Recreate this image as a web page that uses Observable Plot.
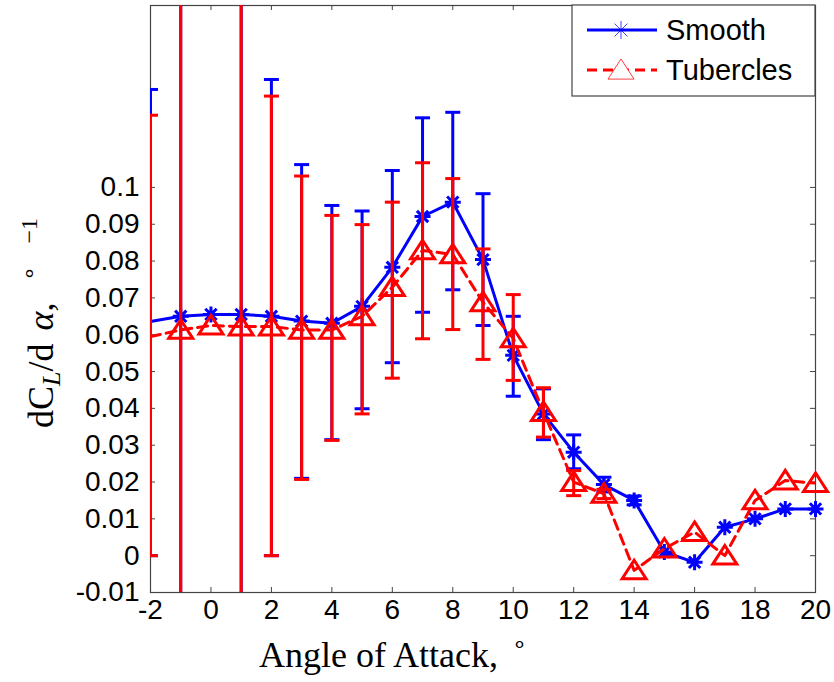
<!DOCTYPE html>
<html>
<head>
<meta charset="utf-8">
<script src="https://cdn.jsdelivr.net/npm/d3@7"></script>
<script src="https://cdn.jsdelivr.net/npm/@observablehq/plot@0.6"></script>
<style>
  html, body { margin: 0; padding: 0; background: #fff; }
  #chart { width: 834px; height: 682px; }
</style>
</head>
<body>
<div id="chart"></div>
<script>
// ---- data ----
const angles = [-2, -1, 0, 1, 2, 3, 4, 5, 6, 7, 8, 9, 10, 11, 12, 13, 14, 15, 16, 17, 18, 19, 20];

const smooth     = [0.0636, 0.0650, 0.0655, 0.0655, 0.0650, 0.0637, 0.0631, 0.0677, 0.0783, 0.0921, 0.0960, 0.0804, 0.0544, 0.0385, 0.0281, 0.0193, 0.0150, 0.0010, -0.0018, 0.0077, 0.0100, 0.0127, 0.0127];
const smoothLow  = [0.0000, -0.25, null, -0.25, 0.0000, 0.0210, 0.0315, 0.0399, 0.0524, 0.0661, 0.0722, 0.0625, 0.0433, 0.0315, 0.0236, 0.0173, 0.0138, null, null, null, null, null, null];
const smoothHigh = [0.1266, 0.38, null, 0.38, 0.1293, 0.1062, 0.0951, 0.0936, 0.1046, 0.1189, 0.1204, 0.0983, 0.0650, 0.0453, 0.0328, 0.0213, 0.0162, null, null, null, null, null, null];

const tubercles  = [0.0595, 0.0613, 0.0625, 0.0622, 0.0622, 0.0613, 0.0613, 0.0650, 0.0729, 0.0829, 0.0818, 0.0688, 0.0590, 0.0390, 0.0200, 0.0168, -0.0040, 0.0019, 0.0064, 0.0000, 0.0150, 0.0204, 0.0197];
const tubLow     = [0.0000, -0.30, null, -0.30, 0.0000, 0.0207, 0.0313, 0.0385, 0.0482, 0.0589, 0.0614, 0.0533, 0.0476, 0.0322, 0.0163, 0.0155, null, null, null, null, null, null, null];
const tubHigh    = [0.1196, 0.40, null, 0.40, 0.1248, 0.1031, 0.0924, 0.0899, 0.0960, 0.1067, 0.1024, 0.0833, 0.0709, 0.0456, 0.0231, 0.0180, null, null, null, null, null, null, null];

const seriesNames = ["Smooth", "Tubercles"];
const xTicks = [-2, 0, 2, 4, 6, 8, 10, 12, 14, 16, 18, 20];
const yTicks = [-0.01, 0, 0.01, 0.02, 0.03, 0.04, 0.05, 0.06, 0.07, 0.08, 0.09, 0.1];
const xDomain = [-2, 20];
const yDomain = [-0.01, 0.1494];

// ---- tables ----
const rowsS = angles.map((a, i) => ({angle: a, v: smooth[i], lo: smoothLow[i], hi: smoothHigh[i]}));
const rowsT = angles.map((a, i) => ({angle: a, v: tubercles[i], lo: tubLow[i], hi: tubHigh[i]}));
const errS = rowsS.filter(d => d.lo != null);
const errT = rowsT.filter(d => d.lo != null);
const markS = rowsS.filter(d => d.angle > xDomain[0]);
const markT = rowsT.filter(d => d.angle > xDomain[0]);

// ---- symbols ----
const star8 = {draw(ctx, size) {
  const r = Math.sqrt(size / Math.PI), d = r * Math.SQRT1_2;
  ctx.moveTo(-r, 0); ctx.lineTo(r, 0);
  ctx.moveTo(0, -r); ctx.lineTo(0, r);
  ctx.moveTo(-d, -d); ctx.lineTo(d, d);
  ctx.moveTo(-d, d); ctx.lineTo(d, -d);
}};
const tri = {draw(ctx, size) {
  const r = Math.sqrt(size / Math.PI);
  ctx.moveTo(0, -0.85 * r); ctx.lineTo(r, 0.7 * r); ctx.lineTo(-r, 0.7 * r); ctx.closePath();
}};
const cap = {draw(ctx, size) {
  const r = Math.sqrt(size / Math.PI);
  ctx.moveTo(-r, 0); ctx.lineTo(r, 0);
}};

const BLUE = "#0000ff", RED = "#ff0000";
const W = 834, H = 682, mL = 150, mR = 19, mT = 5, mB = 90;
const iw = W - mL - mR, ih = H - mT - mB;
const TICK = 5;

const fmt = d => String(d);

const chart = Plot.plot({
  width: W, height: H,
  marginLeft: mL, marginRight: mR, marginTop: mT, marginBottom: mB,
  style: {fontFamily: "'Liberation Sans', Arial, sans-serif", fontSize: "28px", background: "#fff", color: "#000", overflow: "visible"},
  x: {domain: xDomain},
  y: {domain: yDomain},
  marks: [
    // inward ticks
    Plot.ruleX(xTicks, {x: d => d, insetTop: ih - TICK, stroke: "#444", strokeWidth: 1}),
    Plot.ruleX(xTicks, {x: d => d, insetBottom: ih - TICK, stroke: "#444", strokeWidth: 1}),
    Plot.ruleY(yTicks, {y: d => d, insetRight: iw - TICK, stroke: "#444", strokeWidth: 1}),
    Plot.ruleY(yTicks, {y: d => d, insetLeft: iw - TICK, stroke: "#444", strokeWidth: 1}),
    Plot.frame({stroke: "#444", strokeWidth: 1.2}),
    Plot.axisX({ticks: xTicks, tickSize: 0, tickPadding: 7, tickFormat: fmt, label: null, fill: "#000"}),
    Plot.axisY({ticks: yTicks, tickSize: 0, tickPadding: 11, tickFormat: fmt, label: null, fill: "#000"}),
    // Smooth
    Plot.line(rowsS, {x: "angle", y: "v", stroke: BLUE, strokeWidth: 3, clip: true}),
    Plot.ruleX(errS, {x: "angle", y1: "lo", y2: "hi", stroke: BLUE, strokeWidth: 3, clip: true}),
    Plot.dot(errS, {x: "angle", y: "lo", symbol: cap, r: 7.5, stroke: BLUE, fill: "none", strokeWidth: 3, clip: true}),
    Plot.dot(errS, {x: "angle", y: "hi", symbol: cap, r: 7.5, stroke: BLUE, fill: "none", strokeWidth: 3, clip: true}),
    Plot.dot(markS, {x: "angle", y: "v", symbol: star8, r: 8, stroke: BLUE, fill: "none", strokeWidth: 3}),
    // Tubercles
    Plot.line(rowsT, {x: "angle", y: "v", stroke: RED, strokeWidth: 3, strokeDasharray: "10,6", clip: true}),
    Plot.ruleX(errT, {x: "angle", y1: "lo", y2: "hi", stroke: RED, strokeWidth: 3, clip: true}),
    Plot.dot(errT, {x: "angle", y: "lo", symbol: cap, r: 7.5, stroke: RED, fill: "none", strokeWidth: 3, clip: true}),
    Plot.dot(errT, {x: "angle", y: "hi", symbol: cap, r: 7.5, stroke: RED, fill: "none", strokeWidth: 3, clip: true}),
    Plot.dot(markT, {x: "angle", y: "v", symbol: tri, r: 12, stroke: RED, fill: "none", strokeWidth: 3})
  ]
});

document.getElementById("chart").appendChild(chart);

// ---- labels and legend (text with sub/superscripts) ----
const svg = d3.select(chart);
const serif = "'Liberation Serif', 'Times New Roman', serif";

// x label
const xl = svg.append("text")
  .attr("x", 393).attr("y", 667)
  .attr("text-anchor", "middle")
  .style("font-family", serif).style("font-size", "36px").attr("fill", "#000");
xl.append("tspan").text("Angle of Attack,");
xl.append("tspan").attr("dx", 14).attr("dy", -15).style("font-size", "24px").text("∘");

// y label
const yl = svg.append("text")
  .attr("transform", "translate(53,428) rotate(-90)")
  .attr("text-anchor", "start")
  .style("font-family", serif).style("font-size", "36px").attr("fill", "#000");
yl.append("tspan").text("dC");
yl.append("tspan").attr("dy", 7).style("font-size", "26px").style("font-style", "italic").text("L");
yl.append("tspan").attr("dy", -7).text("/d ");
yl.append("tspan").attr("dx", 4).style("font-style", "italic").text("α");
yl.append("tspan").text(",");
yl.append("tspan").attr("dx", 22).attr("dy", -16).style("font-size", "24px").text("∘");
yl.append("tspan").attr("dx", 22).style("font-size", "24px").text("−1");

// legend
const lg = svg.append("g");
lg.append("rect").attr("x", 572).attr("y", mT).attr("width", 815 - 572).attr("height", 91)
  .attr("fill", "#fff").attr("stroke", "#444").attr("stroke-width", 1.2);
const legendRows = [
  {name: seriesNames[0], color: BLUE, dash: null, sym: star8, y: 30, r: 9},
  {name: seriesNames[1], color: RED, dash: "10,6", sym: tri, y: 70, r: 13}
];
legendRows.forEach(e => {
  lg.append("line").attr("x1", 587).attr("x2", 657).attr("y1", e.y).attr("y2", e.y)
    .attr("stroke", e.color).attr("stroke-width", 3).attr("stroke-dasharray", e.dash);
  lg.append("path").attr("transform", `translate(621,${e.y})`)
    .attr("d", d3.symbol(e.sym, Math.PI * e.r * e.r)())
    .attr("fill", e.dash ? "#fff" : "none").attr("stroke", e.color).attr("stroke-width", 1).attr("stroke-opacity", 0.75);
  lg.append("text").attr("x", 666).attr("y", e.y + 10)
    .attr("text-anchor", "start")
    .style("font-family", "'Liberation Sans', Arial, sans-serif").style("font-size", "29px")
    .attr("fill", "#000").text(e.name);
});
</script>
</body>
</html>
